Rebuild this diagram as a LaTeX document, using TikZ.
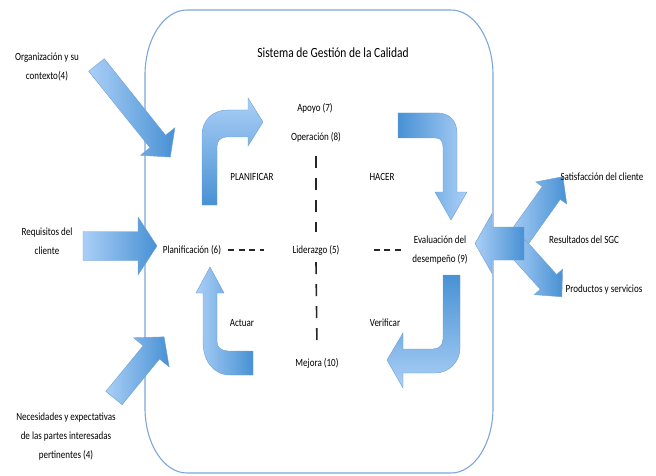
\documentclass[tikz,border=0pt]{standalone}
\usepackage{fontspec}
\setmainfont{Carlito}[FakeStretch=0.82]
\definecolor{flLight}{RGB}{170,207,246}
\definecolor{flDark}{RGB}{72,145,212}
\definecolor{frameBlue}{RGB}{125,167,217}
\definecolor{edgeBlue}{RGB}{110,160,215}

% straight block arrow: tail point, angle, length, shaft half width, head half width, head length
\newcommand\blockarrow[6]{%
  \begin{scope}[shift={#1},rotate=#2]
    \shade[left color=flLight,right color=flDark,draw=edgeBlue,line width=0.4pt]
      (0,-#4) -- ({#3-#6},-#4) -- ({#3-#6},-#5) -- (#3,0) -- ({#3-#6},#5) -- ({#3-#6},#4) -- (0,#4) -- cycle;
  \end{scope}}

\tikzset{
  lbl/.style={font=\fontsize{11}{19}\selectfont,align=center,inner sep=1pt},
  ttl/.style={font=\fontsize{14}{16}\selectfont,inner sep=1pt},
  vdash/.style={line width=1.6pt,dash pattern=on 12pt off 10pt,draw=black!85},
  hdash/.style={line width=1.6pt,dash pattern=on 6pt off 4.5pt,draw=black!85},
  bent/.style={draw=edgeBlue,line width=0.4pt}
}

\begin{document}
\begin{tikzpicture}[x=1pt,y=-1pt]
\useasboundingbox[fill=white] (0,0) rectangle (656,476);

% system frame with elliptic corners
\draw[frameBlue,line width=1.1pt]
  (187,10) -- (451,10) .. controls (474.2,10) and (493,39.1) .. (493,75)
  -- (493,408) .. controls (493,443.9) and (474.2,473) .. (451,473)
  -- (187,473) .. controls (163.8,473) and (145,443.9) .. (145,408)
  -- (145,75) .. controls (145,39.1) and (163.8,10) .. (187,10) -- cycle;

% inputs
\blockarrow{(96.5,65)}{-51.3}{118}{10}{22}{20}
\blockarrow{(83,246)}{0}{74}{14.5}{29}{19}
\blockarrow{(114,398)}{50.7}{79}{10.5}{23}{20}

% outputs
\blockarrow{(517,241)}{54.5}{79}{11}{19}{20}
\blockarrow{(517,247)}{-48}{67}{11}{19}{20}
\blockarrow{(524,243.5)}{180}{49}{16.5}{30}{17}

% PDCA bent arrows
\shade[bent,top color=flLight,bottom color=flDark]
  (202,205) -- (202,135) .. controls (202,120) and (213,110) .. (228,110)
  -- (248,110) -- (248,98) -- (263,122) -- (248,146) -- (248,137) -- (226,137)
  .. controls (221,137) and (217,141) .. (217,146) -- (217,205) -- cycle;
\shade[bent,left color=flDark,right color=flLight]
  (398,113) -- (438,113) .. controls (449,113) and (457,121) .. (457,133)
  -- (457,192) -- (467,192) -- (451,220) -- (435,192) -- (443,192) -- (443,147)
  .. controls (443,142) and (441,138) .. (436,138) -- (398,138) -- cycle;
\shade[bent,top color=flDark,bottom color=flLight]
  (443,275) -- (460,275) -- (460,348) .. controls (460,362) and (449,373) .. (435,373)
  -- (403,373) -- (403,388) -- (387,360) -- (403,333) -- (403,349) -- (433,349)
  .. controls (439,349) and (443,345) .. (443,339) -- cycle;
\shade[bent,left color=flLight,right color=flDark]
  (253,351) -- (228,351) .. controls (221,351) and (217,347) .. (217,342)
  -- (217,293) -- (224,293) -- (210,267) -- (196,293) -- (203,293) -- (203,342)
  .. controls (203,360) and (213,375) .. (230,375) -- (253,375) -- cycle;

% labels
\node[ttl] (ttl) at (333,53) {Sistema de Gestión de la Calidad};
\node[lbl] (apoyo) at (315,108) {Apoyo (7)};
\node[lbl] (oper) at (316,137) {Operación (8)};
\node[lbl] (planif) at (252,177) {PLANIFICAR};
\node[lbl] (hacer) at (382,177) {HACER};
\node[lbl] (plan6) at (192,250) {Planificación (6)};
\node[lbl] (lider) at (316,250) {Liderazgo (5)};
\node[lbl] (eval) at (440,250) {Evaluación del\\desempeño (9)};
\node[lbl] (actuar) at (242,323) {Actuar};
\node[lbl] (verif) at (385,323) {Verificar};
\node[lbl] (mejora) at (317,363) {Mejora (10)};

\node[lbl] (org) at (47,67) {Organización y su\\contexto(4)};
\node[lbl] (req) at (47,241) {Requisitos del\\cliente};
\node[lbl] (nec) at (66,437) {Necesidades y expectativas\\de las partes interesadas\\pertinentes (4)};
\node[lbl] (sat) at (602,177) {Satisfacción del cliente};
\node[lbl] (res) at (584,240) {Resultados del SGC};
\node[lbl] (prod) at (604,290) {Productos y servicios};

% dashed links between the processes
\draw[vdash] ([yshift=-13pt]oper.south) -- ([yshift=12pt]lider.north);
\draw[vdash] ([yshift=-6pt]lider.south) -- ([yshift=8pt]mejora.north);
\draw[hdash] ([xshift=6pt]plan6.east) -- ([xshift=-27pt]lider.west);
\draw[hdash] ([xshift=33pt]lider.east) -- ([xshift=-8pt]eval.west);
\end{tikzpicture}
\end{document}
